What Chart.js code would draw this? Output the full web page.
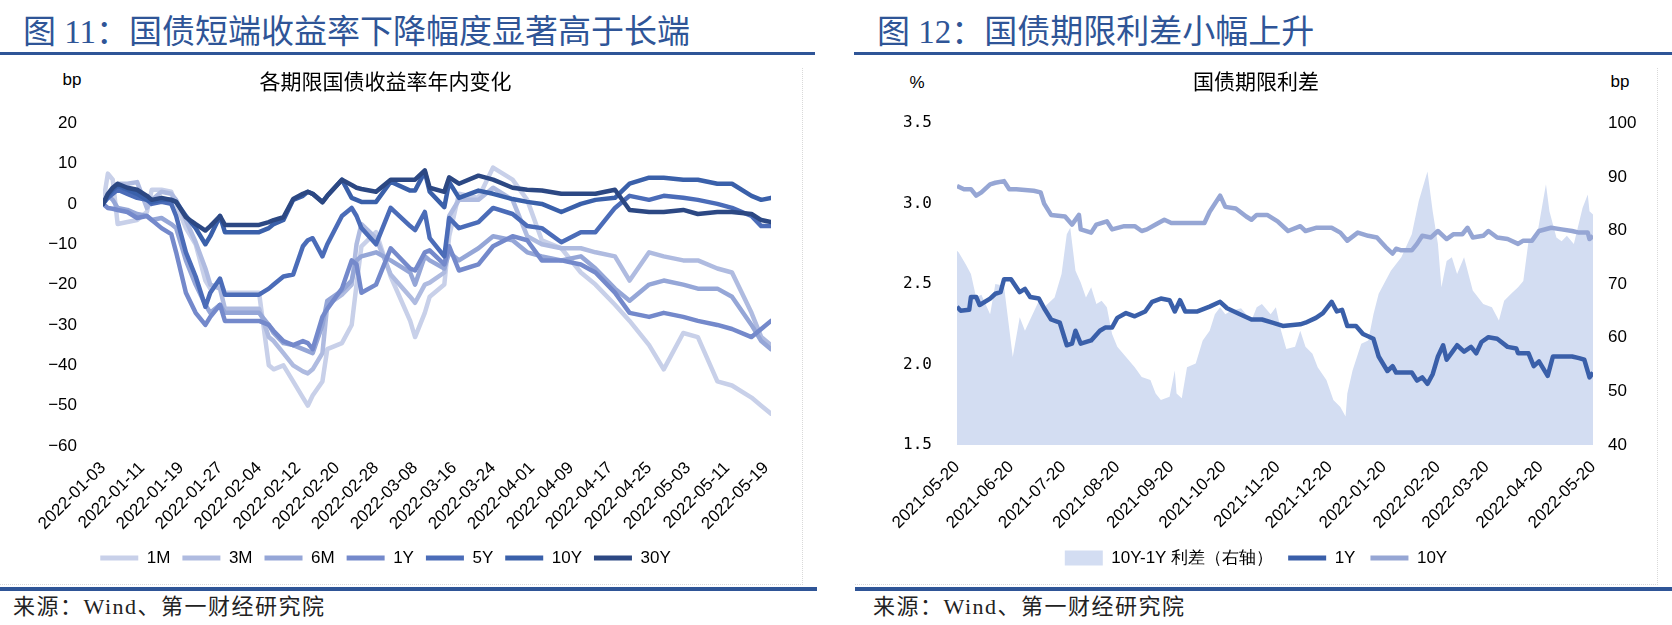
<!DOCTYPE html>
<html>
<head>
<meta charset="utf-8">
<script src="https://cdn.jsdelivr.net/npm/chart.js@4.4.0/dist/chart.umd.min.js"></script>
<style>
  body { margin:0; background:#fff; width:1672px; height:625px; position:relative; overflow:hidden; font-family:"Liberation Sans", Arial, sans-serif; }
  .head { position:absolute; top:12px; font-family:"Liberation Serif","Noto Sans CJK SC",serif; font-size:33px; line-height:40px; color:#2f5597; white-space:nowrap; }
  .rule { position:absolute; background:#2f5597; }
  .foot { position:absolute; top:594px; font-family:"Liberation Serif","Noto Sans CJK SC",serif; font-size:22px; line-height:26px; letter-spacing:1.5px; color:#222; white-space:nowrap; }
  .unit { position:absolute; font-size:17px; color:#000; transform:translate(-50%,-50%); }
  .frame { position:absolute; top:68px; height:516px; border-right:1px dotted #d9d9d9; border-bottom:1px dotted #d9d9d9; }
  canvas { position:absolute; top:60px; }
</style>
</head>
<body>
<div class="frame" style="left:0;width:802px"></div>
<div class="frame" style="left:855px;width:802px"></div>

<div class="head" style="left:23px">图 11：国债短端收益率下降幅度显著高于长端</div>
<div class="rule" style="left:0;width:815px;top:52px;height:3px"></div>
<div class="head" style="left:877px">图 12：国债期限利差小幅上升</div>
<div class="rule" style="left:854px;width:818px;top:52px;height:3px"></div>

<div class="unit" style="left:72px;top:80px">bp</div>
<div class="unit" style="left:917px;top:83px">%</div>
<div class="unit" style="left:1620px;top:82px">bp</div>

<canvas id="yieldChart" width="802" height="525" style="left:0"></canvas>
<canvas id="spreadChart" width="802" height="525" style="left:855px"></canvas>

<div class="rule" style="left:0;width:817px;top:587px;height:4px"></div>
<div class="rule" style="left:855px;width:817px;top:587px;height:4px"></div>
<div class="foot" style="left:13px">来源：Wind、第一财经研究院</div>
<div class="foot" style="left:873px">来源：Wind、第一财经研究院</div>

<script>
// ---- 图11: 各期限国债收益率年内变化 (bp, days since 2022-01-03) ----
const leftDays = [0,1,2,3,5,7,9,10,12,14,15,17,19,21,22,24,25,32,34,35,37,39,41,42,43,45,46,49,51,52,53,56,59,63,64,66,67,70,71,73,77,80,84,87,90,94,98,101,105,108,112,115,119,122,126,129,133,135,137];
const m1  = [0,7.5,6,-5,-4.5,-4,-2,3.5,3.5,3,0,-6,-10,-19,-21,-19.5,-22,-22,-40,-41,-40,-44,-48,-50,-47.5,-44,-36,-34.5,-30,-20,-10.5,-7,-18,-29,-33,-27,-23,-20,-8,2.5,1.5,9,6,1,-9,-11,-17,-20,-25,-29,-35,-41,-32,-33,-44,-45,-48,-50,-52];
const m3  = [0,2,4,5,5,5.4,-1,1,3,2.5,1,-4,-9.5,-16,-20,-21,-26,-26,-33,-34,-37,-40,-41.5,-42,-41,-37,-25,-22.5,-20,-10,-5,-8.5,-17.5,-23,-24.5,-20,-19.5,-17,-3,1,1,4,1,-8,-10,-11,-11,-12,-13,-19,-12,-13,-14,-14,-16,-17,-27,-33,-35];
const m6  = [0,2,1,-1,-1.5,-2.5,-3,-4,-3.5,-5,-6,-14,-20,-25,-27,-25,-27,-27,-30,-32,-34.5,-35,-36,-36.5,-37,-30,-24,-21.5,-19,-14,-13,-12,-14,-17,-20,-13,-14,-16,-12,-14,-11,-8,-9,-12,-13,-14,-13,-16,-21,-24,-20,-19,-20,-21,-21,-23,-30,-34,-36];
const y1  = [0,-1,-1.2,-1.5,-2,-3.5,-3,-4,-6,-7.5,-12,-22,-27,-30,-28,-25,-29,-29,-30,-31.5,-34,-35,-34,-34.5,-36,-28,-26,-21,-14,-15,-22,-20,-11,-16,-16.5,-12,-11.5,-15,-10.5,-16.5,-15,-10.5,-8,-9,-14,-14,-15,-17,-22,-27,-28,-27,-28,-29,-30,-31,-33,-31,-29];
const y5  = [0,1.5,2.5,3.5,2.5,1.5,1,0,0.5,0,-3,-12,-18,-25.5,-22,-18.5,-22.5,-22.5,-21,-20,-18,-17.5,-10.5,-9,-8.5,-13,-10,-3,-1,-3,-6,-10,-1,-5.5,-6.5,-2,-8.5,-13,-3.5,-6,-4.5,-1,-2.5,-5.5,-6,-9.5,-7,-7,-1,2,1,2,1.5,1,0,-1,-3,-5.5,-5.5];
const y10 = [0,2,3.5,4.5,3.5,2.5,1,0.5,1,1,0.5,-3,-6,-10,-8,-3,-7,-7,-6,-5,-4,1,2,3,2.5,0.5,2,6,1.5,1,0.5,0.5,5.5,3.3,3.3,8,3,-0.8,5.4,1.5,3.3,2.5,1.2,0.5,0,-2,0,1,1.5,5,6.5,6.5,6,6,5,5,2,1,1.5];
const y30 = [0,2.5,4,5,4,3.5,2,1,1.5,1,0.5,-3.3,-5,-6.6,-5.5,-3,-5.2,-5.2,-4.5,-4,-3.3,1.2,2.5,3,2.5,0.4,2,6,4.7,4,3.7,3,6,6,6,8.3,4,3,6.6,5,7,6,4,3.5,3.3,2.5,2.5,2.5,3.5,-1.5,-2,-2,-1.5,-2.5,-2,-2,-2.5,-4,-4.5];
const leftTickDays = [0,8,16,24,32,40,48,56,64,72,80,88,96,104,112,120,128,136];
const leftTickLabels = ['2022-01-03','2022-01-11','2022-01-19','2022-01-27','2022-02-04','2022-02-12','2022-02-20','2022-02-28','2022-03-08','2022-03-16','2022-03-24','2022-04-01','2022-04-09','2022-04-17','2022-04-25','2022-05-03','2022-05-11','2022-05-19'];

// ---- 图12: 国债期限利差 (days since 2021-05-20) ----
const oneYearDay = [0,2,7,8,11,13,19,22,25,27,31,36,39,42,47,50,54,59,63,66,68,71,77,82,85,89,92,97,102,108,112,117,122,125,128,131,138,145,151,155,163,169,175,181,187,197,200,206,210,215,218,221,224,229,233,239,242,247,250,252,261,264,267,270,273,276,279,281,285,287,291,295,298,301,305,310,316,321,322,328,331,334,339,342,347,353,357,360,363,365];
const oneYearYield = [2.36,2.335,2.34,2.42,2.42,2.37,2.41,2.44,2.45,2.53,2.53,2.45,2.47,2.42,2.41,2.35,2.28,2.26,2.12,2.13,2.21,2.13,2.15,2.21,2.23,2.23,2.29,2.32,2.30,2.33,2.39,2.41,2.40,2.33,2.40,2.33,2.33,2.36,2.39,2.35,2.31,2.28,2.28,2.26,2.24,2.25,2.26,2.29,2.32,2.39,2.33,2.34,2.24,2.24,2.19,2.16,2.05,1.96,1.99,1.95,1.95,1.90,1.92,1.88,1.94,2.05,2.12,2.03,2.09,2.12,2.08,2.11,2.07,2.14,2.17,2.16,2.11,2.10,2.07,2.07,1.99,2.02,1.93,2.05,2.05,2.05,2.04,2.03,1.92,1.95];
const tenYearDay = [0,4,8,11,14,19,22,27,30,34,44,48,50,54,62,66,70,71,77,80,86,89,96,102,106,109,114,119,123,129,135,142,145,151,154,160,166,169,172,178,184,190,197,200,206,215,220,224,230,236,241,246,250,252,255,261,264,267,272,276,281,285,290,293,296,302,305,310,316,322,325,330,334,341,347,353,357,362,363,365];
const tenYearYield = [3.11,3.09,3.09,3.05,3.07,3.12,3.13,3.14,3.09,3.09,3.08,3.07,3.00,2.93,2.92,2.87,2.93,2.84,2.82,2.87,2.89,2.84,2.86,2.86,2.83,2.84,2.87,2.90,2.88,2.88,2.88,2.88,2.95,3.05,2.98,2.97,2.92,2.90,2.93,2.93,2.89,2.83,2.86,2.83,2.85,2.85,2.82,2.77,2.82,2.80,2.79,2.73,2.69,2.72,2.71,2.71,2.75,2.80,2.79,2.83,2.78,2.81,2.81,2.85,2.79,2.80,2.83,2.79,2.78,2.75,2.77,2.77,2.83,2.85,2.84,2.83,2.82,2.82,2.78,2.80];
const spreadDay = [0,1,5,8,11,14,19,22,27,28,32,36,39,47,50,56,60,63,65,68,71,74,77,80,83,86,89,92,97,102,106,111,114,117,122,125,126,129,132,137,141,145,148,151,154,157,163,169,172,175,180,183,186,189,194,197,200,204,207,212,216,220,223,224,227,232,236,239,242,249,255,261,265,270,273,276,278,281,284,287,291,296,302,307,311,314,318,322,325,328,333,336,338,340,344,347,350,354,359,362,363,365];
const spreadBp = [76.2,75.9,73.7,71.9,67.5,68,64.4,70.0,69.7,66.9,56.4,63.8,61.3,66.9,65.7,67.5,71.9,79.3,80.5,72.5,70.3,67.5,69.4,66.3,66.9,65.7,60.7,58.3,56.4,54.5,52.7,52.1,49.6,48.4,49.0,53.9,49.6,48.7,54.5,55.2,59.5,61.3,64.4,65.7,64.4,65.0,65.5,63.2,65.7,66.3,64.4,65.7,61.3,57.9,58.3,61.3,58.3,57.0,54.5,52.1,48.4,47.1,45.3,49.6,53.9,58.9,59.5,64.4,68.2,72.5,75.0,79.3,85.5,91.0,83.6,77.5,69.4,74.3,75.0,71.9,75.0,68.8,66.3,65.7,63.2,66.9,68.2,69.4,70.6,78.0,79.3,84.9,88.6,83.6,78.7,78.0,79.0,77.5,84.2,86.7,83.6,83.0];
const rightTickDays = [0,31,61,92,123,153,184,214,245,276,304,335,365];
const rightTickLabels = ['2021-05-20','2021-06-20','2021-07-20','2021-08-20','2021-09-20','2021-10-20','2021-11-20','2021-12-20','2022-01-20','2022-02-20','2022-03-20','2022-04-20','2022-05-20'];

Chart.defaults.color = '#000';
Chart.defaults.font.family = '"Liberation Sans", Arial, sans-serif';

const pts = (xs, ys) => xs.map((x, i) => ({ x, y: ys[i] }));
const minus = v => v < 0 ? '\u2212' + Math.abs(v) : String(v);
const subtitleFont = { family: '"Noto Sans CJK SC", sans-serif', size: 21, weight: 'normal' };
const legendFont = { family: '"Liberation Sans Narrow", "Liberation Sans", sans-serif', size: 17 };

function lineSet(label, data, color, order){
  return { label, data: pts(leftDays, data), borderColor: color, backgroundColor: color,
           borderWidth: 4.5, pointRadius: 0, tension: 0, order,
           borderJoinStyle: 'round', borderCapStyle: 'round' };
}

new Chart(document.getElementById('yieldChart'), {
  type: 'line',
  data: {
    datasets: [
      lineSet('1M',  m1,  '#c8d0e9', 6),
      lineSet('3M',  m3,  '#afbbe0', 5),
      lineSet('6M',  m6,  '#95a6d7', 4),
      lineSet('1Y',  y1,  '#7489cb', 3),
      lineSet('5Y',  y5,  '#4b6cb8', 2),
      lineSet('10Y', y10, '#3a60aa', 1),
      lineSet('30Y', y30, '#2c4883', 0)
    ]
  },
  options: {
    responsive: false, animation: false,
    layout: { padding: { left: 0, right: 31, top: 0, bottom: 8.5 } },
    plugins: {
      tooltip: { enabled: false },
      title: { display: true, text: '各期限国债收益率年内变化', font: subtitleFont, color: '#000', padding: { top: 8, bottom: 30 } },
      legend: {
        position: 'bottom',
        labels: {
          font: legendFont, color: '#000', boxWidth: 38, boxHeight: 5, padding: 12,
          generateLabels: chart => chart.data.datasets.map((ds, i) => ({
            text: ds.label, fillStyle: ds.borderColor, strokeStyle: ds.borderColor,
            lineWidth: 0, hidden: false, datasetIndex: i
          }))
        }
      }
    },
    scales: {
      x: {
        type: 'linear', min: 0, max: 137,
        afterBuildTicks: s => { s.ticks = leftTickDays.map(v => ({ value: v })); },
        afterFit: s => { s.height = 91.5; },
        grid: { display: false, drawTicks: false }, border: { display: false },
        ticks: { autoSkip: false, minRotation: 45, maxRotation: 45, padding: 12, font: { size: 17 },
                 callback: (v, i) => leftTickLabels[i] }
      },
      y: {
        min: -60, max: 20,
        afterFit: s => { s.width = 103; },
        grid: { display: false, drawTicks: false }, border: { display: false },
        ticks: { stepSize: 10, padding: 26, font: { size: 17 }, callback: v => minus(v) }
      }
    }
  }
});

const spreadColor = '#d3ddf2';
const oneYColor = '#3a5fa9';
const tenYColor = '#96a6d4';

new Chart(document.getElementById('spreadChart'), {
  type: 'line',
  data: {
    datasets: [
      { label: '10Y-1Y 利差（右轴）', data: pts(spreadDay, spreadBp), yAxisID: 'y1', fill: 'start',
        backgroundColor: spreadColor, borderColor: spreadColor, borderWidth: 0, pointRadius: 0, tension: 0, order: 2 },
      { label: '1Y', data: pts(oneYearDay, oneYearYield), yAxisID: 'y', borderColor: oneYColor,
        borderWidth: 4.5, pointRadius: 0, tension: 0, order: 0, borderJoinStyle: 'round' },
      { label: '10Y', data: pts(tenYearDay, tenYearYield), yAxisID: 'y', borderColor: tenYColor,
        borderWidth: 4.5, pointRadius: 0, tension: 0, order: 1, borderJoinStyle: 'round' }
    ]
  },
  options: {
    responsive: false, animation: false,
    layout: { padding: { left: 0, right: 0, top: 0, bottom: 8.5 } },
    plugins: {
      tooltip: { enabled: false },
      title: { display: true, text: '国债期限利差', font: subtitleFont, color: '#000', padding: { top: 8, bottom: 30 } },
      legend: {
        position: 'bottom',
        labels: {
          font: legendFont, color: '#000', usePointStyle: true, pointStyleWidth: 38, boxHeight: 15, padding: 15,
          generateLabels: () => [
            { text: '10Y-1Y 利差（右轴）', fillStyle: spreadColor, strokeStyle: spreadColor, lineWidth: 0, pointStyle: 'rect', hidden: false, datasetIndex: 0 },
            { text: '1Y', fillStyle: oneYColor, strokeStyle: oneYColor, lineWidth: 5, pointStyle: 'line', hidden: false, datasetIndex: 1 },
            { text: '10Y', fillStyle: tenYColor, strokeStyle: tenYColor, lineWidth: 5, pointStyle: 'line', hidden: false, datasetIndex: 2 }
          ]
        }
      }
    },
    scales: {
      x: {
        type: 'linear', min: 0, max: 365,
        afterBuildTicks: s => { s.ticks = rightTickDays.map(v => ({ value: v })); },
        afterFit: s => { s.height = 89.5; },
        grid: { display: false, drawTicks: false }, border: { display: false },
        ticks: { autoSkip: false, minRotation: 45, maxRotation: 45, padding: 12, font: { size: 17 },
                 callback: (v, i) => rightTickLabels[i] }
      },
      y: {
        position: 'left', min: 1.5, max: 3.5,
        afterFit: s => { s.width = 102; },
        grid: { display: false, drawTicks: false }, border: { display: false },
        ticks: { stepSize: 0.5, padding: 25, font: { family: '"DejaVu Sans Mono", monospace', size: 16 }, callback: v => v.toFixed(1) }
      },
      y1: {
        position: 'right', min: 40, max: 100,
        afterFit: s => { s.width = 64; },
        grid: { display: false, drawTicks: false }, border: { display: false },
        ticks: { stepSize: 10, padding: 15, font: { size: 17 } }
      }
    }
  }
});
</script>
</body>
</html>
